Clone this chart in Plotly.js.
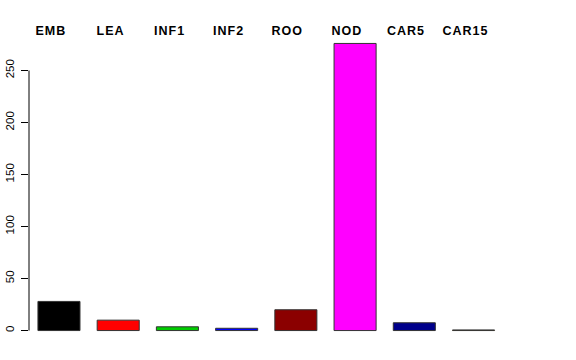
<!DOCTYPE html>
<html>
<head>
<meta charset="utf-8">
<script src="https://cdn.plot.ly/plotly-3.0.1.min.js"></script>
<style>
html,body{margin:0;padding:0;background:#fff;}
#chart{width:576px;height:360px;}
#chart .annotation-text{letter-spacing:1px;}
</style>
</head>
<body>
<div id="chart"></div>
<script>
var categories = ["EMB", "LEA", "INF1", "INF2", "ROO", "NOD", "CAR5", "CAR15"];
var values = [28, 10, 3.6, 2.2, 20, 276, 7.5, 0.6];
var colors = ["#000000", "#FF0000", "#00CD00", "#0000FF", "#8B0000", "#FF00FF", "#00008B", "#FFA500"];
var yTicks = [0, 50, 100, 150, 200, 250];

var trace = {
  type: "bar",
  x: categories,
  y: values,
  marker: {color: colors, line: {color: "#333333", width: 1}},
  width: 0.71,
  hoverinfo: "x+y"
};

var annotations = categories.map(function (c) {
  return {
    x: c, xref: "x", xshift: -8,
    y: 1.003, yref: "paper", yanchor: "middle", xanchor: "center",
    text: "<b>" + c + "</b>", showarrow: false,
    font: {family: "Liberation Sans, Arial, sans-serif", size: 12.5, color: "#000"}
  };
});

var layout = {
  width: 576, height: 360,
  margin: {l: 29, r: 77, t: 31.5, b: 17.5, pad: 0},
  paper_bgcolor: "#fff", plot_bgcolor: "#fff",
  showlegend: false,
  xaxis: {
    type: "category", range: [-0.506, 7.43],
    showticklabels: false, showline: false, showgrid: false, zeroline: false, ticks: ""
  },
  yaxis: {
    range: [-11, 287], tickvals: yTicks, ticktext: yTicks.map(String),
    tickangle: -90, ticks: "outside", ticklen: 7, tickcolor: "#000", tickwidth: 1,
    ticklabelstandoff: 2,
    showline: false, showgrid: false, zeroline: false,
    tickfont: {family: "Liberation Sans, Arial, sans-serif", size: 11.5, color: "#000"}
  },
  shapes: [{
    type: "line", xref: "paper", yref: "y", x0: 0, x1: 0, y0: yTicks[0], y1: yTicks[yTicks.length - 1],
    line: {color: "#000", width: 1}
  }],
  annotations: annotations
};

Plotly.newPlot("chart", [trace], layout, {displayModeBar: false, staticPlot: true});
</script>
</body>
</html>
